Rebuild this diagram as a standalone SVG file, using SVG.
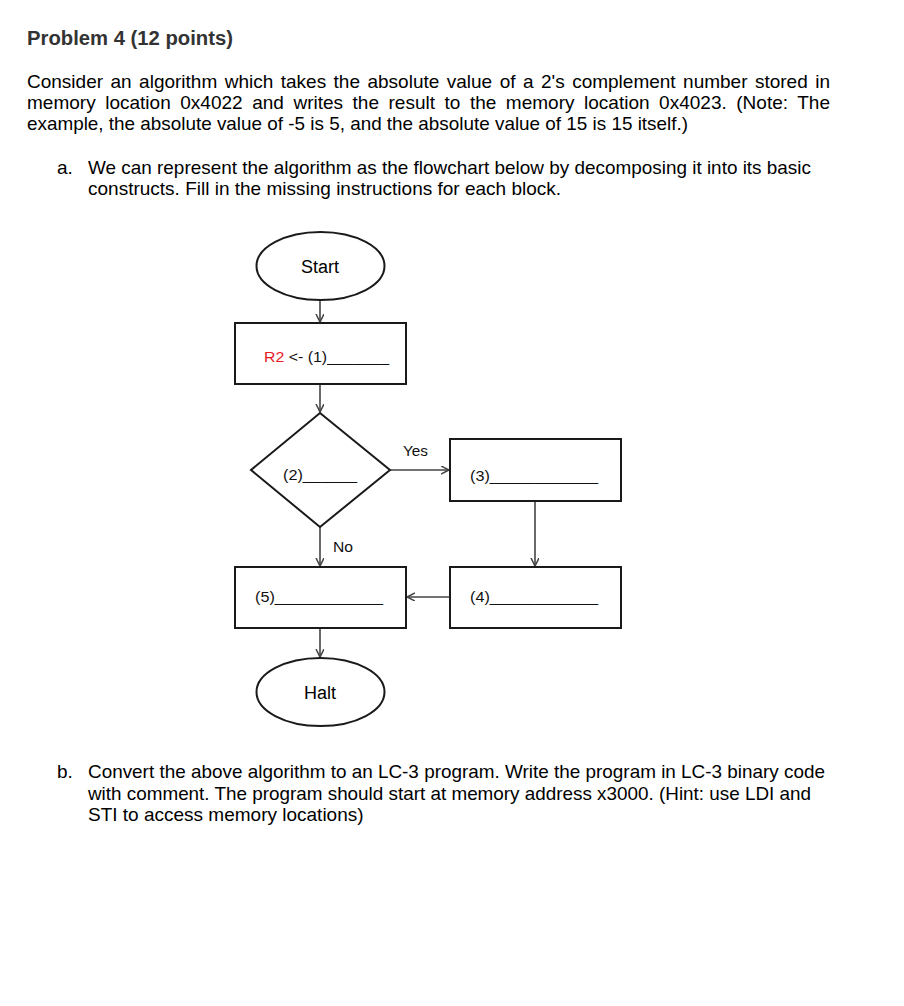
<svg xmlns="http://www.w3.org/2000/svg" width="904" height="1006" viewBox="0 0 904 1006">
<style>
.title{font-family:"Liberation Sans",Arial,sans-serif;font-size:20px;font-weight:bold;fill:#333}
.body{font-family:"Liberation Sans",Arial,sans-serif;font-size:19px;fill:#000}
.lbl{font-family:"Liberation Sans",Arial,sans-serif;font-size:18px;fill:#000}
.blk{font-family:"Liberation Sans",Arial,sans-serif;font-size:15.5px;fill:#111}
.edge{font-family:"Liberation Sans",Arial,sans-serif;font-size:15px;fill:#111}
.shape{fill:#fff;stroke:#1a1a1a;stroke-width:2}
.conn{stroke:#444;stroke-width:1.6;fill:none;marker-end:url(#arr)}
</style>
<defs>
<marker id="arr" markerWidth="10" markerHeight="10" refX="8" refY="4" orient="auto" markerUnits="userSpaceOnUse">
<path d="M0,0 L8,4 L0,8" fill="none" stroke="#444" stroke-width="1.5"/>
</marker>
</defs>
<rect width="904" height="1006" fill="#fff"/>
<text class="title" x="27" y="45" textLength="206" lengthAdjust="spacingAndGlyphs">Problem 4 (12 points)</text>
<text class="body" x="27" y="88" word-spacing="2.2" textLength="803" lengthAdjust="spacing">Consider an algorithm which takes the absolute value of a 2's complement number stored in</text>
<text class="body" x="27" y="109" word-spacing="4.2" textLength="803" lengthAdjust="spacing">memory location 0x4022 and writes the result to the memory location 0x4023. (Note: The</text>
<text class="body" x="27" y="130" textLength="661" lengthAdjust="spacingAndGlyphs">example, the absolute value of -5 is 5, and the absolute value of 15 is 15 itself.)</text>
<text class="body" x="57" y="174">a.</text>
<text class="body" x="88" y="174" textLength="723" lengthAdjust="spacingAndGlyphs">We can represent the algorithm as the flowchart below by decomposing it into its basic</text>
<text class="body" x="88" y="195">constructs. Fill in the missing instructions for each block.</text>
<text class="body" x="57" y="778">b.</text>
<text class="body" x="88" y="778" textLength="737" lengthAdjust="spacingAndGlyphs">Convert the above algorithm to an LC-3 program. Write the program in LC-3 binary code</text>
<text class="body" x="88" y="800" textLength="723" lengthAdjust="spacingAndGlyphs">with comment. The program should start at memory address x3000. (Hint: use LDI and</text>
<text class="body" x="88" y="821">STI to access memory locations)</text>

<g id="connectors">
<line class="conn" x1="320" y1="300" x2="320" y2="322"/>
<line class="conn" x1="320" y1="384" x2="320" y2="412"/>
<line class="conn" x1="390" y1="470" x2="449" y2="470"/>
<line class="conn" x1="535" y1="501" x2="535" y2="566"/>
<line class="conn" x1="320" y1="527" x2="320" y2="566"/>
<line class="conn" x1="450" y1="597" x2="407" y2="597"/>
<line class="conn" x1="320" y1="628" x2="320" y2="657"/>
<text class="edge" x="403" y="456" textLength="25" lengthAdjust="spacingAndGlyphs">Yes</text>
<text class="edge" x="333" y="552" textLength="20" lengthAdjust="spacingAndGlyphs">No</text>
</g>

<g id="start">
<ellipse class="shape" cx="320.5" cy="266" rx="64" ry="34"/>
<text class="lbl" x="320" y="273" text-anchor="middle">Start</text>
</g>
<g id="block1">
<rect class="shape" x="235" y="323" width="171" height="61"/>
<text class="blk" x="264" y="362" textLength="125" lengthAdjust="spacingAndGlyphs"><tspan fill="#e8191f">R2</tspan> &lt;- (1)_______</text>
</g>
<g id="decision2">
<polygon class="shape" points="320,413 390,470 320,527 251,470"/>
<text class="blk" x="283" y="480" textLength="74" lengthAdjust="spacingAndGlyphs">(2)______</text>
</g>
<g id="block3">
<rect class="shape" x="450" y="439" width="171" height="62"/>
<text class="blk" x="470" y="481" textLength="128" lengthAdjust="spacingAndGlyphs">(3)____________</text>
</g>
<g id="block4">
<rect class="shape" x="450" y="567" width="171" height="61"/>
<text class="blk" x="470" y="602" textLength="128" lengthAdjust="spacingAndGlyphs">(4)____________</text>
</g>
<g id="block5">
<rect class="shape" x="235" y="567" width="171" height="61"/>
<text class="blk" x="255" y="602" textLength="128" lengthAdjust="spacingAndGlyphs">(5)____________</text>
</g>
<g id="halt">
<ellipse class="shape" cx="320.5" cy="692" rx="64" ry="34"/>
<text class="lbl" x="320" y="699" text-anchor="middle">Halt</text>
</g>
</svg>
